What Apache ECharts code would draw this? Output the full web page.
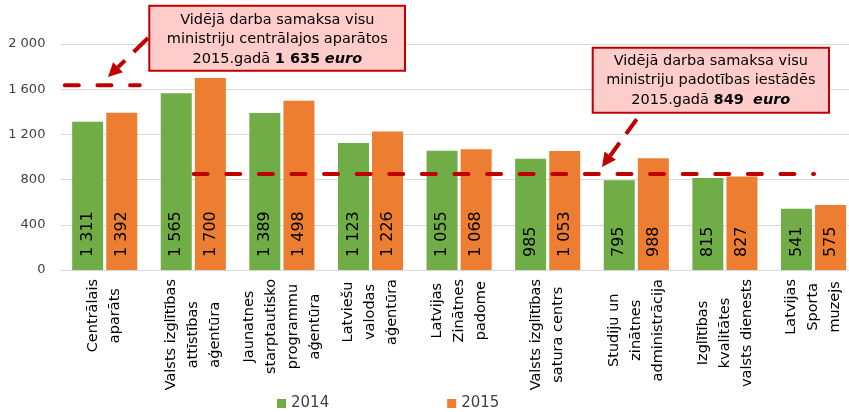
<!DOCTYPE html>
<html>
<head>
<meta charset="utf-8">
<script src="https://cdn.jsdelivr.net/npm/echarts@6/dist/echarts.min.js"></script>
<style>
  html, body { margin: 0; padding: 0; background: #fff; }
  #chart { width: 849px; height: 412px; }
</style>
</head>
<body>
<div id="chart"></div>
<script>
// kategorijas (iestādes)
var categories = [
  'Centrālais\naparāts',
  'Valsts izglītības\nattīstības\naģentūra',
  'Jaunatnes\nstarptautisko\nprogrammu\naģentūra',
  'Latviešu\nvalodas\naģentūra',
  'Latvijas\nZinātnes\npadome',
  'Valsts izglītības\nsatura centrs',
  'Studiju un\nzinātnes\nadministrācija',
  'Izglītības\nkvalitātes\nvalsts dienests',
  'Latvijas\nSporta\nmuzejs'
];
var values2014 = [1311, 1565, 1389, 1123, 1055, 985, 795, 815, 541];
var values2015 = [1392, 1700, 1498, 1226, 1068, 1053, 988, 827, 575];

// vidējā samaksa (references līnijas)
var avgCentral = 1635;
var avgSubordinate = 849;
// līniju garums kategoriju vienībās (palīgass 0..9)
var centralSpan = [0.05, 0.895];
var subordinateSpan = [1.504, 8.506];

var FONT = 'DejaVu Sans';
var RED = '#C00000';

function fmt(v) {
  return String(v).replace(/\B(?=(\d{3})+(?!\d))/g, ' ');
}

var chart = echarts.init(document.getElementById('chart'));

var barLabel = {
  show: true,
  position: 'insideBottom',
  rotate: 90,
  align: 'left',
  verticalAlign: 'middle',
  distance: 13,
  color: '#000',
  fontSize: 16,
  fontFamily: FONT,
  formatter: function (p) { return fmt(p.value); }
};

var refLine = {
  color: RED,
  width: 4,
  type: [14, 18.6],
  cap: 'round'
};

var option = {
  animation: false,
  textStyle: { fontFamily: FONT },
  grid: {
    left: 60.4,
    right: -8.8,
    top: 44,
    bottom: 142,
    containLabel: false,
    outerBoundsMode: 'none'
  },
  legend: {
    data: ['2014', '2015'],
    left: 272,
    top: 391,
    icon: 'rect',
    itemWidth: 9,
    itemHeight: 9,
    itemGap: 118,
    textStyle: { fontSize: 15, color: '#404040', fontFamily: FONT }
  },
  xAxis: [
    {
      type: 'category',
      data: categories,
      axisLine: { lineStyle: { color: '#d9d9d9', width: 1 } },
      axisTick: { show: false },
      axisLabel: {
        interval: 0,
        rotate: 90,
        margin: 9,
        color: '#000',
        fontSize: 14.5,
        fontFamily: FONT,
        formatter: function (v) {
          return v.split('\n').map(function (s) { return '{c|' + s + '}'; }).join('\n');
        },
        rich: {
          c: { align: 'center', fontSize: 14.5, lineHeight: 22, color: '#000', fontFamily: FONT }
        }
      }
    },
    {
      type: 'value',
      min: 0,
      max: categories.length,
      show: false
    }
  ],
  yAxis: {
    type: 'value',
    min: 0,
    max: 2000,
    interval: 400,
    axisLine: { show: false },
    axisTick: { show: false },
    axisLabel: {
      margin: 15,
      color: '#404040',
      fontSize: 13,
      fontFamily: FONT,
      formatter: fmt
    },
    splitLine: { lineStyle: { color: '#d9d9d9', width: 1 } }
  },
  series: [
    {
      name: '2014',
      type: 'bar',
      data: values2014,
      barWidth: 31,
      barGap: '10%',
      itemStyle: { color: '#70AD47' },
      label: barLabel
    },
    {
      name: '2015',
      type: 'bar',
      data: values2015,
      barWidth: 31,
      barGap: '10%',
      itemStyle: { color: '#ED7D31' },
      label: barLabel
    },
    {
      name: 'centralais',
      type: 'line',
      xAxisIndex: 1,
      data: [[centralSpan[0], avgCentral], [centralSpan[1], avgCentral]],
      symbol: 'none',
      lineStyle: refLine,
      silent: true,
      z: 5
    },
    {
      name: 'padotibas',
      type: 'line',
      xAxisIndex: 1,
      data: [[subordinateSpan[0], avgSubordinate], [subordinateSpan[1], avgSubordinate]],
      symbol: 'none',
      lineStyle: refLine,
      silent: true,
      z: 5
    }
  ],
  graphic: [
    // 1. bulta
    {
      type: 'polyline',
      shape: { points: [[148, 38], [118, 67.2]] },
      style: { stroke: RED, lineWidth: 4, lineDash: [20, 12], fill: null },
      z: 100
    },
    {
      type: 'polygon',
      shape: { points: [[108, 77], [122.9, 72.2], [113.1, 62.2]] },
      style: { fill: RED },
      z: 100
    },
    // 2. bulta
    {
      type: 'polyline',
      shape: { points: [[636.7, 119.3], [610.2, 155.7]] },
      style: { stroke: RED, lineWidth: 4, lineDash: [18, 11], fill: null },
      z: 100
    },
    {
      type: 'polygon',
      shape: { points: [[602, 167], [615.9, 159.8], [604.5, 151.6]] },
      style: { fill: RED },
      z: 100
    },
    // 1. lodziņš
    {
      type: 'rect',
      shape: { x: 149.3, y: 5.7, width: 255.7, height: 65 },
      style: { fill: '#FFCCCC', stroke: RED, lineWidth: 2 },
      z: 101
    },
    {
      type: 'text',
      x: 277.3,
      y: 39.5,
      style: {
        text: 'Vidējā darba samaksa visu\nministriju centrālajos aparātos\n2015.gadā {b|1 635} {bi|euro}',
        fill: '#000',
        font: '14.5px "DejaVu Sans"',
        align: 'center',
        verticalAlign: 'middle',
        lineHeight: 19.7,
        rich: {
          b: { fontWeight: 'bold', fontSize: 14.5, fontFamily: FONT, lineHeight: 19.7 },
          bi: { fontWeight: 'bold', fontStyle: 'italic', fontSize: 14.5, fontFamily: FONT, lineHeight: 19.7 }
        }
      },
      z: 102
    },
    // 2. lodziņš
    {
      type: 'rect',
      shape: { x: 592.7, y: 47.7, width: 236.3, height: 65 },
      style: { fill: '#FFCCCC', stroke: RED, lineWidth: 2 },
      z: 101
    },
    {
      type: 'text',
      x: 710.8,
      y: 80.5,
      style: {
        text: 'Vidējā darba samaksa visu\nministriju padotības iestādēs\n2015.gadā {b|849}  {bi|euro}',
        fill: '#000',
        font: '14.5px "DejaVu Sans"',
        align: 'center',
        verticalAlign: 'middle',
        lineHeight: 19.5,
        rich: {
          b: { fontWeight: 'bold', fontSize: 14.5, fontFamily: FONT, lineHeight: 19.5 },
          bi: { fontWeight: 'bold', fontStyle: 'italic', fontSize: 14.5, fontFamily: FONT, lineHeight: 19.5 }
        }
      },
      z: 102
    }
  ]
};

chart.setOption(option);
</script>
</body>
</html>
